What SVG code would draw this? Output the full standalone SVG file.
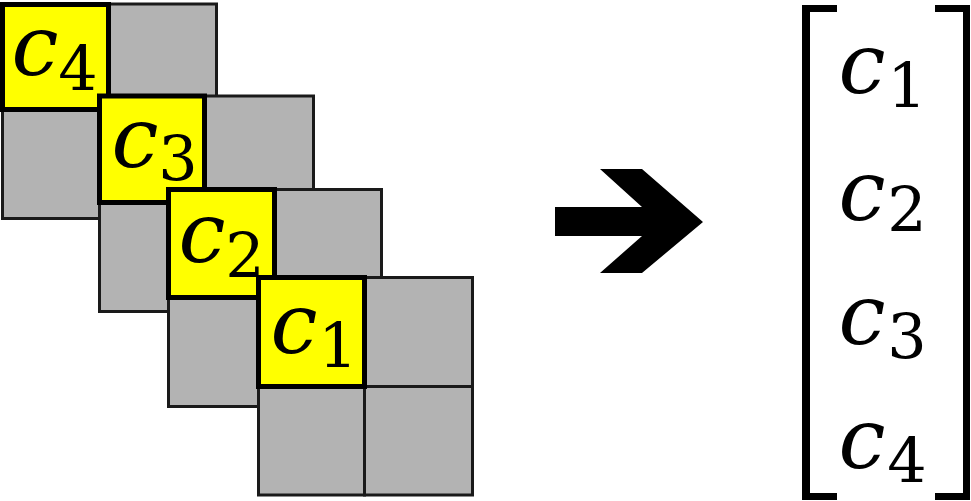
<svg xmlns="http://www.w3.org/2000/svg" width="971" height="501" viewBox="0 0 971 501">
<style>
.g{fill:#b3b3b3;stroke:#1a1a1a;stroke-width:3}
.y{fill:#ffff00;stroke:#000;stroke-width:5}
.c{font-family:'DejaVu Serif',serif;font-style:italic;font-size:84px;fill:#000;text-anchor:middle}
.s{font-family:'DejaVu Serif',serif;font-size:62px;fill:#000;text-anchor:middle}
</style>
<rect width="971" height="501" fill="#fff"/>
<g id="grid4">
<rect class="g" x="108.5" y="4" width="108" height="105.5"/>
<rect class="g" x="2.5" y="109.5" width="106" height="109"/>
<rect class="y" x="2.5" y="4.5" width="106" height="105"/>
<text class="c" x="35" y="75">c</text><text class="s" x="78" y="90">4</text>
</g>
<g id="grid3">
<rect class="g" x="204.5" y="96" width="109" height="106.5"/>
<rect class="g" x="99.5" y="202.5" width="105" height="109"/>
<rect class="y" x="99.5" y="96" width="105" height="106.5"/>
<text class="c" x="135" y="167">c</text><text class="s" x="178" y="180">3</text>
</g>
<g id="grid2">
<rect class="g" x="274.5" y="189.5" width="107" height="108"/>
<rect class="g" x="168.5" y="297.5" width="106" height="109"/>
<rect class="y" x="168.5" y="189.5" width="106" height="108"/>
<text class="c" x="202" y="262">c</text><text class="s" x="245" y="277">2</text>
</g>
<g id="grid1">
<rect class="g" x="364.5" y="277.5" width="108" height="109"/>
<rect class="g" x="258.5" y="386.5" width="106" height="108.5"/>
<rect class="g" x="364.5" y="386.5" width="108" height="108.5"/>
<rect class="y" x="258.5" y="277.5" width="106" height="109"/>
<text class="c" x="294" y="353">c</text><text class="s" x="338" y="367">1</text>
</g>
<g id="connectors">
<polygon points="555,207 642,207 600,169 642,169 703,222 642,273 600,273 642,236 555,236" fill="#000"/>
</g>
<g id="matrix">
<path d="M837,5 H802 V500 H837 V493 H810 V12 H837 Z" fill="#000"/>
<path d="M935,5 H970 V500 H935 V493 H963 V12 H935 Z" fill="#000"/>
<text class="c" x="862" y="93">c</text><text class="s" x="907" y="107">1</text>
<text class="c" x="862" y="220">c</text><text class="s" x="907" y="231">2</text>
<text class="c" x="862" y="344">c</text><text class="s" x="907" y="358">3</text>
<text class="c" x="862" y="468">c</text><text class="s" x="907" y="482">4</text>
</g>
</svg>
